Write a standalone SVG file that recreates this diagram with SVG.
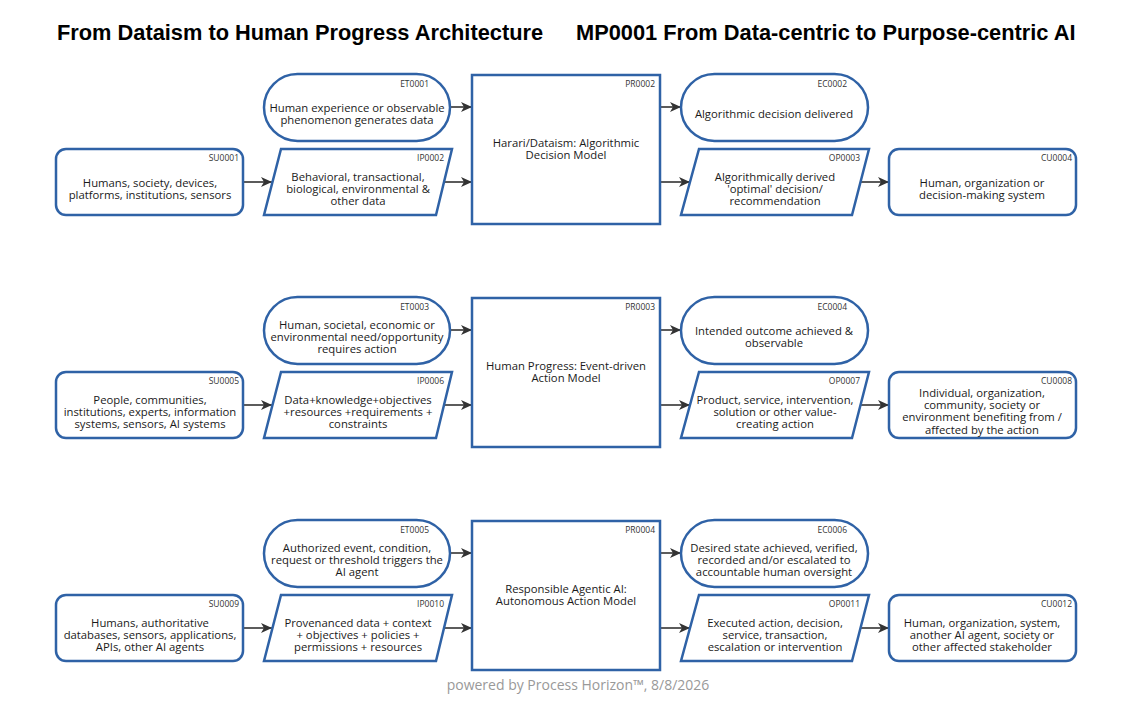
<svg xmlns="http://www.w3.org/2000/svg" width="1128" height="705" viewBox="0 0 1128 705">
<style>
.bg{fill:#ffffff}
.shape{fill:#ffffff;stroke:#2f62a6;stroke-width:2.5}
.lbl{font-family:"Open Sans","Noto Sans",sans-serif;font-size:11.3px;fill:#1a1a1a;text-anchor:middle}
.id{font-family:"Open Sans","Noto Sans",sans-serif;font-size:8.5px;fill:#333;text-anchor:end}
.title{font-family:"Liberation Sans",Arial,sans-serif;font-size:21.8px;font-weight:bold;fill:#000}
.foot{font-family:"Open Sans","Noto Sans",sans-serif;font-size:14px;fill:#999;text-anchor:middle}
.conn{stroke:#333;stroke-width:1.6;fill:none;marker-end:url(#ah)}
</style>
<defs>
<marker id="ah" markerUnits="userSpaceOnUse" markerWidth="12" markerHeight="10" refX="11" refY="5" orient="auto">
<path d="M0,0 L11,5 L0,10 L3,5 Z" fill="#333"/>
</marker>
</defs>
<rect class="bg" x="0" y="0" width="1128" height="705"/>
<text class="title" x="57" y="40">From Dataism to Human Progress Architecture</text>
<text class="title" x="576" y="40">MP0001 From Data-centric to Purpose-centric AI</text>

<g id="connectors">
<line class="conn" x1="450" y1="107" x2="472" y2="107"/>
<line class="conn" x1="444" y1="182" x2="472" y2="182"/>
<line class="conn" x1="243" y1="182" x2="272" y2="182"/>
<line class="conn" x1="660" y1="107" x2="681" y2="107"/>
<line class="conn" x1="660" y1="182" x2="690" y2="182"/>
<line class="conn" x1="860" y1="182" x2="889" y2="182"/>

<line class="conn" x1="450" y1="330" x2="472" y2="330"/>
<line class="conn" x1="444" y1="405" x2="472" y2="405"/>
<line class="conn" x1="243" y1="405" x2="272" y2="405"/>
<line class="conn" x1="660" y1="330" x2="681" y2="330"/>
<line class="conn" x1="660" y1="405" x2="690" y2="405"/>
<line class="conn" x1="860" y1="405" x2="889" y2="405"/>

<line class="conn" x1="450" y1="553" x2="472" y2="553"/>
<line class="conn" x1="444" y1="628" x2="472" y2="628"/>
<line class="conn" x1="243" y1="628" x2="272" y2="628"/>
<line class="conn" x1="660" y1="553" x2="681" y2="553"/>
<line class="conn" x1="660" y1="628" x2="690" y2="628"/>
<line class="conn" x1="860" y1="628" x2="889" y2="628"/>
</g>

<!-- Row 1 -->
<g id="ET0001">
<rect class="shape" x="264" y="74" width="186" height="67" rx="33.5"/>
<text class="id" x="429" y="87">ET0001</text>
<text class="lbl" x="357" y="112"><tspan x="357">Human experience or observable</tspan><tspan x="357" dy="12.3">phenomenon generates data</tspan></text>
</g>
<g id="SU0001">
<rect class="shape" x="56" y="149" width="187" height="66" rx="10"/>
<text class="id" x="239" y="161">SU0001</text>
<text class="lbl" x="150" y="187"><tspan x="150">Humans, society, devices,</tspan><tspan x="150" dy="12.3">platforms, institutions, sensors</tspan></text>
</g>
<g id="IP0002">
<polygon class="shape" points="281,149 452,149 436,215 264,215"/>
<text class="id" x="444" y="161">IP0002</text>
<text class="lbl" x="358" y="180.7"><tspan x="358">Behavioral, transactional,</tspan><tspan x="358" dy="12.3">biological, environmental &amp;</tspan><tspan x="358" dy="12.3">other data</tspan></text>
</g>
<g id="PR0002">
<rect class="shape" x="472" y="75" width="188" height="149"/>
<text class="id" x="655" y="87">PR0002</text>
<text class="lbl" x="566" y="146.9"><tspan x="566">Harari/Dataism: Algorithmic</tspan><tspan x="566" dy="12.3">Decision Model</tspan></text>
</g>
<g id="EC0002">
<rect class="shape" x="681" y="74" width="187" height="67" rx="33.5"/>
<text class="id" x="847" y="87">EC0002</text>
<text class="lbl" x="774" y="118">Algorithmic decision delivered</text>
</g>
<g id="OP0003">
<polygon class="shape" points="699,149 869,149 852,215 681,215"/>
<text class="id" x="860" y="161">OP0003</text>
<text class="lbl" x="775" y="180.7"><tspan x="775">Algorithmically derived</tspan><tspan x="775" dy="12.3">'optimal' decision/</tspan><tspan x="775" dy="12.3">recommendation</tspan></text>
</g>
<g id="CU0004">
<rect class="shape" x="889" y="149" width="187" height="66" rx="10"/>
<text class="id" x="1072" y="161">CU0004</text>
<text class="lbl" x="982" y="187"><tspan x="982">Human, organization or</tspan><tspan x="982" dy="12.3">decision-making system</tspan></text>
</g>

<!-- Row 2 -->
<g id="ET0003">
<rect class="shape" x="264" y="297" width="186" height="67" rx="33.5"/>
<text class="id" x="429" y="310">ET0003</text>
<text class="lbl" x="357" y="328.7"><tspan x="357">Human, societal, economic or</tspan><tspan x="357" dy="12.3">environmental need/opportunity</tspan><tspan x="357" dy="12.3">requires action</tspan></text>
</g>
<g id="SU0005">
<rect class="shape" x="56" y="372" width="187" height="66" rx="10"/>
<text class="id" x="239" y="384">SU0005</text>
<text class="lbl" x="150" y="403.7"><tspan x="150">People, communities,</tspan><tspan x="150" dy="12.3">institutions, experts, information</tspan><tspan x="150" dy="12.3">systems, sensors, AI systems</tspan></text>
</g>
<g id="IP0006">
<polygon class="shape" points="281,372 452,372 436,438 264,438"/>
<text class="id" x="444" y="384">IP0006</text>
<text class="lbl" x="358" y="403.7"><tspan x="358">Data+knowledge+objectives</tspan><tspan x="358" dy="12.3">+resources +requirements +</tspan><tspan x="358" dy="12.3">constraints</tspan></text>
</g>
<g id="PR0003">
<rect class="shape" x="472" y="298" width="188" height="149"/>
<text class="id" x="655" y="310">PR0003</text>
<text class="lbl" x="566" y="369.9"><tspan x="566">Human Progress: Event-driven</tspan><tspan x="566" dy="12.3">Action Model</tspan></text>
</g>
<g id="EC0004">
<rect class="shape" x="681" y="297" width="187" height="67" rx="33.5"/>
<text class="id" x="847" y="310">EC0004</text>
<text class="lbl" x="774" y="334.9"><tspan x="774">Intended outcome achieved &amp;</tspan><tspan x="774" dy="12.3">observable</tspan></text>
</g>
<g id="OP0007">
<polygon class="shape" points="699,372 869,372 852,438 681,438"/>
<text class="id" x="860" y="384">OP0007</text>
<text class="lbl" x="775" y="403.7"><tspan x="775">Product, service, intervention,</tspan><tspan x="775" dy="12.3">solution or other value-</tspan><tspan x="775" dy="12.3">creating action</tspan></text>
</g>
<g id="CU0008">
<rect class="shape" x="889" y="372" width="187" height="66" rx="10"/>
<text class="id" x="1072" y="384">CU0008</text>
<text class="lbl" x="982" y="396.6"><tspan x="982">Individual, organization,</tspan><tspan x="982" dy="12.3">community, society or</tspan><tspan x="982" dy="12.3">environment benefiting from /</tspan><tspan x="982" dy="12.3">affected by the action</tspan></text>
</g>

<!-- Row 3 -->
<g id="ET0005">
<rect class="shape" x="264" y="520" width="186" height="67" rx="33.5"/>
<text class="id" x="429" y="533">ET0005</text>
<text class="lbl" x="357" y="551.7"><tspan x="357">Authorized event, condition,</tspan><tspan x="357" dy="12.3">request or threshold triggers the</tspan><tspan x="357" dy="12.3">AI agent</tspan></text>
</g>
<g id="SU0009">
<rect class="shape" x="56" y="595" width="187" height="66" rx="10"/>
<text class="id" x="239" y="607">SU0009</text>
<text class="lbl" x="150" y="626.7"><tspan x="150">Humans, authoritative</tspan><tspan x="150" dy="12.3">databases, sensors, applications,</tspan><tspan x="150" dy="12.3">APIs, other AI agents</tspan></text>
</g>
<g id="IP0010">
<polygon class="shape" points="281,595 452,595 436,661 264,661"/>
<text class="id" x="444" y="607">IP0010</text>
<text class="lbl" x="358" y="626.7"><tspan x="358">Provenanced data + context</tspan><tspan x="358" dy="12.3">+ objectives + policies +</tspan><tspan x="358" dy="12.3">permissions + resources</tspan></text>
</g>
<g id="PR0004">
<rect class="shape" x="472" y="521" width="188" height="149"/>
<text class="id" x="655" y="533">PR0004</text>
<text class="lbl" x="566" y="592.9"><tspan x="566">Responsible Agentic AI:</tspan><tspan x="566" dy="12.3">Autonomous Action Model</tspan></text>
</g>
<g id="EC0006">
<rect class="shape" x="681" y="520" width="187" height="67" rx="33.5"/>
<text class="id" x="847" y="533">EC0006</text>
<text class="lbl" x="774" y="551.7"><tspan x="774">Desired state achieved, verified,</tspan><tspan x="774" dy="12.3">recorded and/or escalated to</tspan><tspan x="774" dy="12.3">accountable human oversight</tspan></text>
</g>
<g id="OP0011">
<polygon class="shape" points="699,595 869,595 852,661 681,661"/>
<text class="id" x="860" y="607">OP0011</text>
<text class="lbl" x="775" y="626.7"><tspan x="775">Executed action, decision,</tspan><tspan x="775" dy="12.3">service, transaction,</tspan><tspan x="775" dy="12.3">escalation or intervention</tspan></text>
</g>
<g id="CU0012">
<rect class="shape" x="889" y="595" width="187" height="66" rx="10"/>
<text class="id" x="1072" y="607">CU0012</text>
<text class="lbl" x="982" y="626.7"><tspan x="982">Human, organization, system,</tspan><tspan x="982" dy="12.3">another AI agent, society or</tspan><tspan x="982" dy="12.3">other affected stakeholder</tspan></text>
</g>

<text class="foot" x="578" y="690">powered by Process Horizon™, 8/8/2026</text>
</svg>
